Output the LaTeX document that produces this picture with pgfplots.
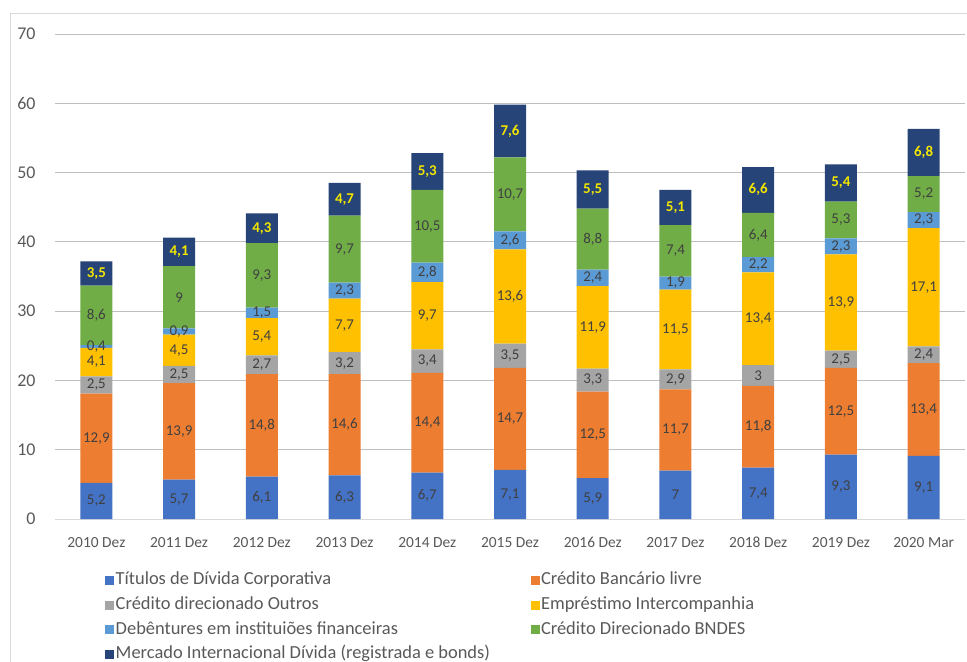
\documentclass[border=0pt]{standalone}
\usepackage{pgfplots}
\pgfplotsset{compat=1.18}
\usepackage{fontspec}
\setmainfont{Carlito}
\definecolor{cA}{HTML}{4472C4}
\definecolor{cB}{HTML}{ED7D31}
\definecolor{cC}{HTML}{A5A5A5}
\definecolor{cD}{HTML}{FFC000}
\definecolor{cE}{HTML}{5B9BD5}
\definecolor{cF}{HTML}{70AD47}
\definecolor{cG}{HTML}{264478}
\definecolor{txt}{HTML}{595959}
\definecolor{lbl}{HTML}{404040}
\definecolor{grid}{HTML}{D9D9D9}
\definecolor{ylab}{HTML}{F2E600}
\begin{document}
\begin{tikzpicture}
\path[use as bounding box] (-55bp,-143bp) rectangle (912bp,519bp);
\draw[grid, line width=0.8bp] (-45bp,-143bp) -- (-45bp,506bp) -- (912bp,506bp);
\begin{axis}[
  at={(0,0)}, anchor=south west,
  scale only axis, width=910bp, height=485bp,
  ybar stacked, bar width=32bp,
  xmin=-0.5, xmax=10.5, ymin=0, ymax=70,
  ytick={0,10,...,70},
  xtick={0,...,10},
  xticklabels={2010 Dez,2011 Dez,2012 Dez,2013 Dez,2014 Dez,2015 Dez,2016 Dez,2017 Dez,2018 Dez,2019 Dez,2020 Mar},
  xmajorgrids=false, ymajorgrids=true, grid style={grid, line width=0.8bp},
  axis y line*=left, y axis line style={draw=none},
  axis x line*=bottom, x axis line style={grid, line width=0.8bp, -},
  major tick length=0pt,
  xtick style={draw=none}, ytick style={draw=none},
  yticklabel style={font=\fontsize{18}{21}\selectfont, text=txt, xshift=-16bp},
  xticklabel style={font=\fontsize{15.5}{18}\selectfont, text=txt, yshift=-14bp, text height=11bp, text depth=3bp},
  nodes near coords,
  /pgf/number format/.cd, use comma, fixed, precision=1, assume math mode=true, /pgfplots/.cd,
  every node near coord/.append style={anchor=center, font=\fontsize{15}{18}\selectfont, text=lbl, inner sep=0pt},
  legend columns=2,
  legend style={draw=none, fill=none, at={(0.055,-0.107)}, anchor=north west, font=\fontsize{18.5}{21}\selectfont, text=txt,
    /tikz/every even column/.append style={column sep=39bp}, row sep=6.3bp, inner sep=0pt, nodes={inner sep=1.5bp, text height=12bp, text depth=3.5bp}},
  legend image code/.code={\fill[#1] (0bp,-4.5bp) rectangle (9bp,4.5bp);},
  legend cell align=left,
]
\addplot[fill=cA, draw=none] coordinates {(0,5.2) (1,5.7) (2,6.1) (3,6.3) (4,6.7) (5,7.1) (6,5.9) (7,7) (8,7.4) (9,9.3) (10,9.1)};
\addlegendentry{Títulos de Dívida Corporativa}
\addplot[fill=cB, draw=none] coordinates {(0,12.9) (1,13.9) (2,14.8) (3,14.6) (4,14.4) (5,14.7) (6,12.5) (7,11.7) (8,11.8) (9,12.5) (10,13.4)};
\addlegendentry{Crédito Bancário livre}
\addplot[fill=cC, draw=none] coordinates {(0,2.5) (1,2.5) (2,2.7) (3,3.2) (4,3.4) (5,3.5) (6,3.3) (7,2.9) (8,3) (9,2.5) (10,2.4)};
\addlegendentry{Crédito direcionado Outros}
\addplot[fill=cD, draw=none] coordinates {(0,4.1) (1,4.5) (2,5.4) (3,7.7) (4,9.7) (5,13.6) (6,11.9) (7,11.5) (8,13.4) (9,13.9) (10,17.1)};
\addlegendentry{Empréstimo Intercompanhia}
\addplot[fill=cE, draw=none] coordinates {(0,0.4) (1,0.9) (2,1.5) (3,2.3) (4,2.8) (5,2.6) (6,2.4) (7,1.9) (8,2.2) (9,2.3) (10,2.3)};
\addlegendentry{Debêntures em instituiões financeiras}
\addplot[fill=cF, draw=none] coordinates {(0,8.6) (1,9) (2,9.3) (3,9.7) (4,10.5) (5,10.7) (6,8.8) (7,7.4) (8,6.4) (9,5.3) (10,5.2)};
\addlegendentry{Crédito Direcionado BNDES}
\addplot[fill=cG, draw=none, every node near coord/.append style={text=ylab, font=\bfseries\fontsize{15}{18}\selectfont}] coordinates {(0,3.5) (1,4.1) (2,4.3) (3,4.7) (4,5.3) (5,7.6) (6,5.5) (7,5.1) (8,6.6) (9,5.4) (10,6.8)};
\addlegendentry{Mercado Internacional Dívida (registrada e bonds)}
\end{axis}
\end{tikzpicture}
\end{document}
